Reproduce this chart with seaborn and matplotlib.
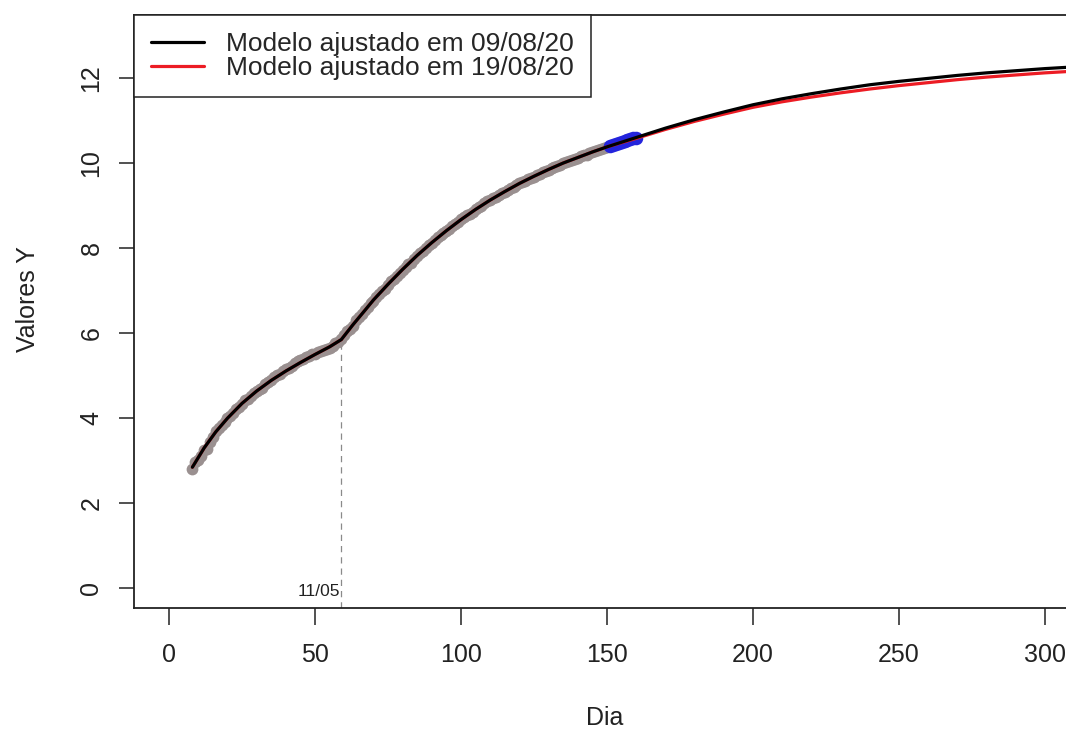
import matplotlib
matplotlib.use("Agg")
import matplotlib.pyplot as plt
from matplotlib.lines import Line2D
import seaborn as sns
import pandas as pd

# ---------------- data ----------------
obs_days = list(range(8, 151))
obs_values = [
    2.80, 2.98, 3.02, 3.12, 3.25, 3.28, 3.45, 3.55, 3.70, 3.76, 3.85, 3.92, 4.00,
    4.05, 4.12, 4.22, 4.27, 4.33, 4.42, 4.45, 4.52, 4.60, 4.63,
    4.68, 4.72, 4.80, 4.86, 4.90, 4.98, 5.02, 5.05, 5.12, 5.15,
    5.18, 5.22, 5.30, 5.35, 5.36, 5.40, 5.44, 5.46, 5.50, 5.52,
    5.55, 5.58, 5.60, 5.64, 5.66, 5.70, 5.76, 5.80, 5.87,
    5.95, 6.05, 6.10, 6.18, 6.30, 6.38, 6.45, 6.55, 6.62, 6.70, 6.76,
    6.85, 6.93, 7.00, 7.05, 7.13, 7.22, 7.27, 7.35, 7.42, 7.48,
    7.56, 7.62, 7.66, 7.75, 7.82, 7.88, 7.93, 8.00, 8.08, 8.12,
    8.18, 8.25, 8.30, 8.36, 8.40, 8.46, 8.52, 8.56, 8.62, 8.68,
    8.72, 8.78, 8.80, 8.86, 8.92, 8.96, 9.00, 9.05, 9.10, 9.12,
    9.18, 9.20, 9.25, 9.30, 9.32, 9.36, 9.42, 9.44, 9.48, 9.52,
    9.55, 9.58, 9.62, 9.65, 9.68, 9.72, 9.75, 9.78, 9.82, 9.84,
    9.88, 9.90, 9.94, 9.96, 10.00, 10.02, 10.05, 10.08, 10.10, 10.13,
    10.16, 10.18, 10.20, 10.23, 10.25, 10.28, 10.30, 10.33, 10.35, 10.38,
]

new_days = list(range(151, 161))
new_values = [10.40, 10.42, 10.44, 10.46, 10.49, 10.51, 10.53, 10.56, 10.58, 10.60]

model_days = [8, 12, 16, 20, 25, 30, 35, 40, 45, 50, 55, 59, 63, 67,
              70, 75, 80, 85, 90, 95, 100, 105, 110, 115, 120, 125, 130,
              135, 140, 145, 150, 155, 160, 170, 180, 190, 200, 210, 220,
              230, 240, 250, 260, 270, 280, 290, 300, 310]
model_0908 = [2.85, 3.30, 3.68, 4.00, 4.35, 4.64, 4.89, 5.11, 5.31, 5.50, 5.68, 5.85, 6.20, 6.53,
              6.78, 7.15, 7.50, 7.83, 8.13, 8.41, 8.67, 8.91, 9.13, 9.33, 9.52, 9.69, 9.85,
              10.00, 10.13, 10.26, 10.38, 10.49, 10.60, 10.82, 11.02, 11.20, 11.37, 11.51, 11.63,
              11.74, 11.84, 11.92, 11.99, 12.06, 12.12, 12.17, 12.22, 12.26]
model_1908 = [2.85, 3.30, 3.68, 4.00, 4.35, 4.64, 4.89, 5.11, 5.31, 5.50, 5.68, 5.85, 6.20, 6.53,
              6.78, 7.15, 7.50, 7.83, 8.13, 8.41, 8.67, 8.91, 9.13, 9.33, 9.52, 9.69, 9.85,
              10.00, 10.13, 10.26, 10.38, 10.48, 10.58, 10.79, 10.98, 11.15, 11.31, 11.44, 11.55,
              11.65, 11.74, 11.82, 11.89, 11.96, 12.02, 12.07, 12.12, 12.16]

break_day = 59
break_value = 5.87
break_label = "11/05"

legend_labels = ["Modelo ajustado em 09/08/20", "Modelo ajustado em 19/08/20"]
x_ticks = [0, 50, 100, 150, 200, 250, 300]
y_ticks = [0, 2, 4, 6, 8, 10, 12]

obs_df = pd.DataFrame({"Dia": obs_days, "Y": obs_values})
new_df = pd.DataFrame({"Dia": new_days, "Y": new_values})
model_df = pd.DataFrame({"Dia": model_days, "m1": model_0908, "m2": model_1908})

# ---------------- style ----------------
sns.set_theme(style="white")
plt.rcParams["font.family"] = ["Liberation Sans", "DejaVu Sans"]

W, H = 1066, 731
fig = plt.figure(figsize=(W / 100, H / 100), dpi=100)
left_px, right_px, top_px, bottom_px = 134, 1080, 15, 608
ax = fig.add_axes([left_px / W, 1 - bottom_px / H,
                   (right_px - left_px) / W, (bottom_px - top_px) / H])

gray_col = "#9a9090"
blue_col = "#2424dc"
red_col = "#ec1c24"

sns.scatterplot(data=obs_df, x="Dia", y="Y", ax=ax, color=gray_col, s=72,
                linewidth=0, legend=False, zorder=2)
sns.scatterplot(data=new_df, x="Dia", y="Y", ax=ax, color=blue_col, s=95,
                linewidth=0, legend=False, zorder=3)
sns.lineplot(data=model_df, x="Dia", y="m2", ax=ax, color=red_col, linewidth=2.3,
             sort=False, estimator=None, legend=False, zorder=4)
sns.lineplot(data=model_df, x="Dia", y="m1", ax=ax, color="black", linewidth=2.3,
             sort=False, estimator=None, legend=False, zorder=5)

ylim = (-0.46, 13.48)
ax.plot([break_day, break_day], [ylim[0], break_value], color="#8a8a8a",
        linestyle=(0, (5, 4)), linewidth=0.9, zorder=1)
ax.text(break_day - 0.3, -0.07, break_label, ha="right", va="center",
        fontsize=12.5, color="#222222")

ax.set_xlim(-12, 312)
ax.set_ylim(*ylim)
ax.set_xticks(x_ticks)
ax.set_yticks(y_ticks)
ax.set_xticklabels([str(t) for t in x_ticks])
ax.set_yticklabels([str(t) for t in y_ticks], rotation=90, va="center")

ax.tick_params(axis="x", direction="out", length=12, width=1.1, pad=13,
               labelsize=18, colors="#222222", bottom=True)
ax.tick_params(axis="y", direction="out", length=11, width=1.1, pad=11,
               labelsize=18, colors="#222222", left=True)

for side in ["left", "bottom", "top"]:
    ax.spines[side].set_visible(True)
    ax.spines[side].set_color("#222222")
    ax.spines[side].set_linewidth(1.3)
ax.spines["right"].set_visible(False)

ax.set_xlabel("Dia", fontsize=18, color="#222222", va="center")
ax.set_ylabel("Valores Y", fontsize=18, color="#222222", va="center")
ax.xaxis.set_label_coords((605 - left_px) / (right_px - left_px),
                          -(718 - bottom_px) / (bottom_px - top_px))
ax.yaxis.set_label_coords(-(left_px - 28) / (right_px - left_px),
                          (bottom_px - 299) / (bottom_px - top_px))

handles = [Line2D([0], [0], color="black", linewidth=2.3),
           Line2D([0], [0], color=red_col, linewidth=2.3)]
leg = ax.legend(handles, legend_labels, loc="upper left", bbox_to_anchor=(0, 1),
                borderaxespad=0, frameon=True, fancybox=False, framealpha=1,
                edgecolor="#222222", fontsize=19, handlelength=2.0,
                handletextpad=0.85, labelspacing=0.0, borderpad=0.65)
leg.get_frame().set_linewidth(1.1)
leg.set_zorder(10)

fig.savefig("out.png", dpi=100)
